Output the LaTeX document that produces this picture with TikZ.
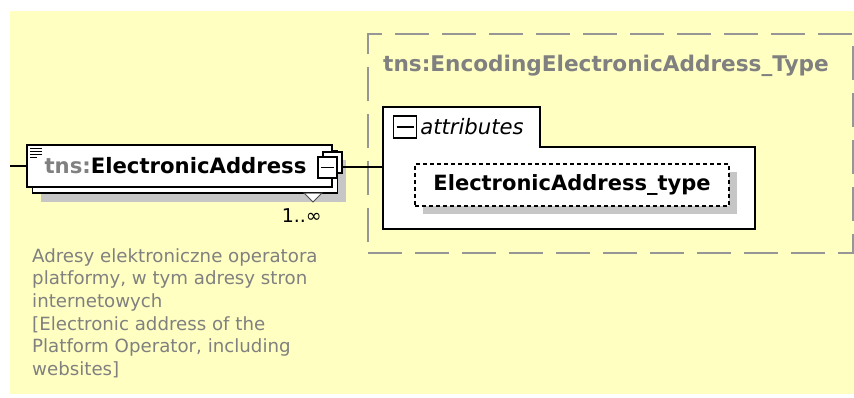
\documentclass[tikz,border=0pt]{standalone}
\usepackage{fontspec}
\setmainfont{DejaVu Sans}
\usetikzlibrary{positioning}
\usetikzlibrary{shadows}
\definecolor{xsd yellow}{RGB}{255,255,194}
\definecolor{xsd gray}{RGB}{128,128,128}
\definecolor{xsd dash}{RGB}{150,150,150}
\colorlet{xsd shadow}{gray!45}

\begin{document}
\begin{tikzpicture}[x=1pt,y=-1pt,
	conn/.style={draw=black, line width=1.2pt},
	elembox/.style={draw=black, fill=white, line width=1.2pt, minimum width=305pt, minimum height=42pt, inner sep=0pt},
	togglebox/.style={draw=black, fill=white, line width=1.1pt, inner sep=0pt},
	minusmark/.style={path picture={\draw[line width=1.1pt] ([xshift=3pt]path picture bounding box.west) -- ([xshift=-3pt]path picture bounding box.east);}},
	typeframe/.style={draw=xsd dash, line width=1.8pt, dash pattern=on 34pt off 13pt, inner sep=0pt},
	attrtype/.style={draw=black, fill=white, line width=1.2pt, dash pattern=on 4pt off 3pt, inner sep=0pt, minimum width=314pt, minimum height=42pt,
		drop shadow={shadow xshift=8pt, shadow yshift=-8pt, fill=xsd shadow, opacity=1}}]
	\useasboundingbox (0,0) rectangle (854,397);
	\fill[xsd yellow] (10,11) rectangle (854,394);

	% complex type frame
	\node[typeframe, minimum width=485pt, minimum height=219pt, anchor=north west] (typebox) at (367,33) {};
	\node[anchor=west, inner sep=0pt, text=xsd gray, font=\fontsize{21.6}{24}\selectfont\bfseries] (typename) at (383,66) {tns:EncodingElectronicAddress\_Type};

	% attributes group
	\draw[fill=white, line width=1.2pt] (383,107) -- (540,107) -- (540,147) -- (755,147) -- (755,229) -- (383,229) -- cycle;
	\coordinate (attrin) at (383,167);
	\node[togglebox, minusmark, minimum width=23pt, minimum height=22pt] (attrtoggle) at (405,127) {};
	\node[right=3pt of attrtoggle, inner sep=0pt, font=\fontsize{21.2}{24}\selectfont\itshape] (attrname) {attributes};
	\node[attrtype, font=\fontsize{21}{24}\selectfont\bfseries] (attrtypebox) at (572,185) {ElectronicAddress\_type};

	% element
	\node[elembox, drop shadow={shadow xshift=8pt, shadow yshift=-9pt, fill=xsd shadow, opacity=1}] (elemback) at (185,172) {};
	\node[elembox, font=\fontsize{21.2}{24}\selectfont\bfseries] (elem) at (179.5,166) {\raisebox{-3pt}{\textcolor{xsd gray}{tns:}ElectronicAddress}\hspace*{8pt}};
	\foreach \yy in {148,151,154} \draw[line width=1pt] (30,\yy) -- (42,\yy);
	\draw[line width=1pt] (30,157) -- (37,157);
	\draw[draw=black!70, fill=white, line width=1pt] (304,193) -- (322,193) -- (313,202) -- cycle;
	\node[togglebox, minimum width=19pt, minimum height=21pt] (elemtoggleback) at (332.5,162.5) {};
	\node[togglebox, minusmark, minimum width=19pt, minimum height=21pt] (elemtoggle) at (327.5,167.5) {};
	\node[anchor=north east, inner sep=0pt, font=\fontsize{19}{20}\selectfont] (elemmult) at (322,208) {1..∞};
	\coordinate (elemin) at (10,166);
	\draw[conn] (elemin) -- (elem.west);
	\draw[conn] (elemtoggleback.east |- attrin) -- (attrin);

	% annotation
	\node[anchor=north west, align=left, inner sep=0pt, text=xsd gray, font=\fontsize{18.2}{22.7}\selectfont] (elemdoc) at (32,248)
		{Adresy elektroniczne operatora\\platformy, w tym adresy stron\\internetowych\\{[}Electronic address of the\\Platform Operator, including\\websites{]}};
\end{tikzpicture}
\end{document}
